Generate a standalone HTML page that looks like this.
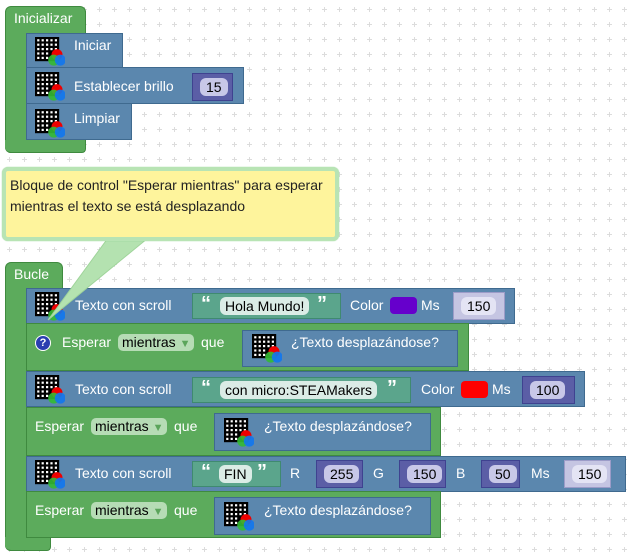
<!DOCTYPE html>
<html><head><meta charset="utf-8"><style>
body{margin:0;width:631px;height:559px;overflow:hidden;position:relative;font-family:"Liberation Sans",sans-serif;background:#fff}
div{box-sizing:border-box}
.a{position:absolute}
.g{background:#5cab5c;border:1px solid #3f8a3f}
.b{background:#5b87ae;border:1px solid #3f6a8f}
.t{position:absolute;color:#fff;font-size:14px;white-space:nowrap}
.str{position:absolute;background:#5ba58c;border:1px solid #3f8a70;height:26px}
.oval{position:absolute;background:#dbece6;border-radius:6px;color:#000;font-size:14px;padding:1px 5px;top:3px}
.q{position:absolute;color:#fff;font-weight:bold;font-size:20px;top:-1px}
.num{position:absolute;background:#5b5ea6;border:1px solid #3f4290;height:28px}
.num span{position:absolute;left:7px;top:4px;background:#c8c8e8;border-radius:6px;color:#000;font-size:14px;padding:1px 6px}
.numl{background:#c5c5e2;border-color:#9c9cc8}
.numl span{background:#e4e4f4}
.dd{position:absolute;background:#b6dcb5;border-radius:5px;color:#000;font-size:14px;padding:0 4px;height:17px;line-height:17px}
.dd i{font-style:normal;color:#5ba55b;font-size:11px}
.sw{position:absolute;width:27px;height:17px;border-radius:4px}
</style></head><body>
<svg width="631" height="559" class="a" style="left:0;top:0">
<defs><pattern id="p" width="15" height="15" patternUnits="userSpaceOnUse" x="2" y="2"><path d="M5 7.5h5M7.5 5v5" stroke="#dcdcdc" stroke-width="1"/></pattern>
<g id="ic"><rect width="22" height="22" fill="#000"/>
<g fill="#fff"><rect x="2" y="2" width="2" height="2"/><rect x="6" y="2" width="2" height="2"/><rect x="10" y="2" width="2" height="2"/><rect x="14" y="2" width="2" height="2"/><rect x="18" y="2" width="2" height="2"/>
<rect x="2" y="6" width="2" height="2"/><rect x="6" y="6" width="2" height="2"/><rect x="10" y="6" width="2" height="2"/><rect x="14" y="6" width="2" height="2"/><rect x="18" y="6" width="2" height="2"/>
<rect x="2" y="10" width="2" height="2"/><rect x="6" y="10" width="2" height="2"/><rect x="10" y="10" width="2" height="2"/><rect x="14" y="10" width="2" height="2"/><rect x="18" y="10" width="2" height="2"/>
<rect x="2" y="14" width="2" height="2"/><rect x="6" y="14" width="2" height="2"/><rect x="10" y="14" width="2" height="2"/>
<rect x="2" y="18" width="2" height="2"/><rect x="6" y="18" width="2" height="2"/><rect x="10" y="18" width="2" height="2"/></g>
<circle cx="20" cy="16" r="5" fill="#e00"/><circle cx="17" cy="21" r="5" fill="#3b3" opacity=".9"/><circle cx="23" cy="21" r="5" fill="#17e" opacity=".9"/></g></defs>
<rect width="631" height="559" fill="url(#p)"/>
</svg>

<div class="a g" style="left:5px;top:6px;width:81px;height:28px;border-radius:6px 6px 0 0;border-bottom:0"></div>
<div class="a g" style="left:5px;top:30px;width:22px;height:123px;border-top:0;border-right:0;border-radius:0 0 0 6px"></div>
<div class="a g" style="left:5px;top:140px;width:81px;height:13px;border-left:0;border-top:0;border-radius:0 0 4px 6px"></div>
<div class="t" style="left:14px;top:10px">Inicializar</div>
<div class="a b" style="left:26px;top:33px;width:97px;height:35px"></div>
<div class="a b" style="left:26px;top:67px;width:218px;height:37px"></div>
<div class="a b" style="left:26px;top:103px;width:106px;height:37px"></div>
<svg class="a" style="left:35px;top:37px" width="30" height="30"><use href="#ic" transform="scale(1.1)"/></svg>
<svg class="a" style="left:35px;top:72px" width="30" height="30"><use href="#ic" transform="scale(1.1)"/></svg>
<svg class="a" style="left:35px;top:109px" width="30" height="30"><use href="#ic" transform="scale(1.1)"/></svg>
<div class="t" style="left:74px;top:37px">Iniciar</div>
<div class="t" style="left:74px;top:78px">Establecer brillo</div>
<div class="t" style="left:74px;top:110px">Limpiar</div>
<div class="num" style="left:192px;top:73px;width:41px"><span>15</span></div>

<div class="a g" style="left:5px;top:262px;width:58px;height:28px;border-radius:6px 6px 0 0;border-bottom:0"></div>
<div class="a g" style="left:5px;top:286px;width:22px;height:265px;border-top:0;border-right:0;border-radius:0 0 0 6px"></div>
<div class="a g" style="left:5px;top:537px;width:46px;height:14px;border-left:0;border-top:0;border-radius:0 0 4px 6px"></div>
<div class="t" style="left:14px;top:266px">Bucle</div>

<div class="a b" style="left:26px;top:288px;width:489px;height:36px"></div>
<svg class="a" style="left:35px;top:292px" width="30" height="30"><use href="#ic" transform="scale(1.1)"/></svg>
<div class="t" style="left:75px;top:297px">Texto con scroll</div>
<div class="str" style="left:192px;top:293px;width:149px"><span class="q" style="left:8px">“</span><span class="oval" style="left:27px">Hola Mundo!</span><span class="q" style="left:124px">”</span></div>
<div class="t" style="left:350px;top:297px">Color</div>
<div class="sw" style="left:390px;top:297px;background:#6600cc"></div>
<div class="t" style="left:421px;top:297px">Ms</div>
<div class="num numl" style="left:453px;top:292px;width:52px"><span>150</span></div>

<div class="a g" style="left:26px;top:323px;width:443px;height:48px"></div>
<div class="a" style="left:35px;top:335px;width:16px;height:16px;border-radius:50%;background:#2a3fb0;border:1px solid #fff;color:#fff;font-size:11px;font-weight:bold;text-align:center;line-height:14px">?</div>
<div class="t" style="left:62px;top:334px">Esperar</div>
<div class="dd" style="left:118px;top:334px">mientras <i>▼</i></div>
<div class="t" style="left:201px;top:334px">que</div>
<div class="a b" style="left:242px;top:330px;width:216px;height:37px"></div>
<svg class="a" style="left:252px;top:334px" width="30" height="30"><use href="#ic" transform="scale(1.1)"/></svg>
<div class="t" style="left:291px;top:334px">¿Texto desplazándose?</div>

<div class="a b" style="left:26px;top:371px;width:559px;height:36px"></div>
<svg class="a" style="left:35px;top:375px" width="30" height="30"><use href="#ic" transform="scale(1.1)"/></svg>
<div class="t" style="left:75px;top:381px">Texto con scroll</div>
<div class="str" style="left:192px;top:377px;width:219px"><span class="q" style="left:8px">“</span><span class="oval" style="left:27px">con micro:STEAMakers</span><span class="q" style="left:194px">”</span></div>
<div class="t" style="left:421px;top:381px">Color</div>
<div class="sw" style="left:461px;top:381px;background:#f00"></div>
<div class="t" style="left:492px;top:381px">Ms</div>
<div class="num" style="left:522px;top:376px;width:53px"><span>100</span></div>

<div class="a g" style="left:26px;top:407px;width:415px;height:49px"></div>
<div class="t" style="left:35px;top:418px">Esperar</div>
<div class="dd" style="left:91px;top:418px">mientras <i>▼</i></div>
<div class="t" style="left:174px;top:418px">que</div>
<div class="a b" style="left:214px;top:413px;width:217px;height:38px"></div>
<svg class="a" style="left:224px;top:418px" width="30" height="30"><use href="#ic" transform="scale(1.1)"/></svg>
<div class="t" style="left:264px;top:418px">¿Texto desplazándose?</div>

<div class="a b" style="left:26px;top:456px;width:600px;height:36px"></div>
<svg class="a" style="left:35px;top:460px" width="30" height="30"><use href="#ic" transform="scale(1.1)"/></svg>
<div class="t" style="left:75px;top:465px">Texto con scroll</div>
<div class="str" style="left:192px;top:461px;width:89px"><span class="q" style="left:8px">“</span><span class="oval" style="left:26px">FIN</span><span class="q" style="left:64px">”</span></div>
<div class="t" style="left:290px;top:465px">R</div>
<div class="num" style="left:316px;top:460px;width:47px"><span>255</span></div>
<div class="t" style="left:373px;top:465px">G</div>
<div class="num" style="left:399px;top:460px;width:47px"><span>150</span></div>
<div class="t" style="left:456px;top:465px">B</div>
<div class="num" style="left:481px;top:460px;width:39px"><span>50</span></div>
<div class="t" style="left:531px;top:465px">Ms</div>
<div class="num numl" style="left:564px;top:460px;width:47px"><span>150</span></div>

<div class="a g" style="left:26px;top:491px;width:415px;height:47px"></div>
<div class="t" style="left:35px;top:502px">Esperar</div>
<div class="dd" style="left:91px;top:502px">mientras <i>▼</i></div>
<div class="t" style="left:174px;top:502px">que</div>
<div class="a b" style="left:214px;top:497px;width:217px;height:38px"></div>
<svg class="a" style="left:224px;top:502px" width="30" height="30"><use href="#ic" transform="scale(1.1)"/></svg>
<div class="t" style="left:264px;top:502px">¿Texto desplazándose?</div>

<svg class="a" style="left:0;top:160px" width="345" height="170">
<polygon points="108,78 148,78 48,160" fill="#b4e2b0" stroke="#9fd49a" stroke-width="1"/>
</svg>
<div class="a" style="left:2px;top:167px;width:337px;height:74px;background:#fef49c;border:4px solid #b8e4b4;border-radius:6px;box-shadow:0 0 1px #8c8"></div>
<div class="a" style="left:10px;top:175px;width:328px;font-size:14px;line-height:21px;color:#222;white-space:nowrap">Bloque de control "Esperar mientras" para esperar<br>mientras el texto se está desplazando</div>
</body></html>
